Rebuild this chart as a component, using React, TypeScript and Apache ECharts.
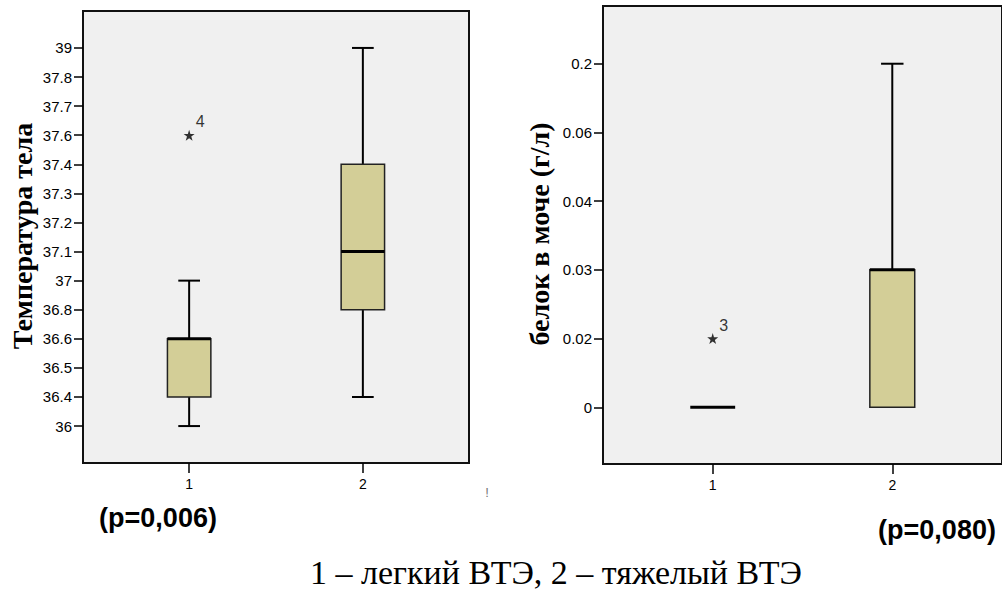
import React, { useEffect, useRef } from "react";
import * as echarts from "echarts";

// ---- data ----
const GROUPS = [1, 2];
const GROUP_LABELS = ["1", "2"];

const TEMP_TICKS = [36, 36.4, 36.5, 36.6, 36.8, 37, 37.1, 37.2, 37.3, 37.4, 37.6, 37.7, 37.8, 39];
const TEMP_LOW = [36, 36.4];
const TEMP_Q1 = [36.4, 36.8];
const TEMP_MED = [36.6, 37.1];
const TEMP_Q3 = [36.6, 37.4];
const TEMP_HIGH = [37, 39];
const TEMP_OUTLIER_GROUP = [1];
const TEMP_OUTLIER_VALUE = [37.6];
const TEMP_OUTLIER_CASE = ["4"];

const PROT_TICKS = [0, 0.02, 0.03, 0.04, 0.06, 0.2];
const PROT_LOW = [0, 0];
const PROT_Q1 = [0, 0];
const PROT_MED = [0, 0.03];
const PROT_Q3 = [0, 0.03];
const PROT_HIGH = [0, 0.2];
const PROT_OUTLIER_GROUP = [1];
const PROT_OUTLIER_VALUE = [0.02];
const PROT_OUTLIER_CASE = ["3"];

const TITLE_LEFT = "Температура тела";
const TITLE_RIGHT = "белок в моче (г/л)";
const P_LEFT = "(p=0,006)";
const P_RIGHT = "(p=0,080)";
const CAPTION = "1 – легкий ВТЭ, 2 – тяжелый ВТЭ";

// ---- styling ----
const BOX_FILL = "#d3ce97";
const PLOT_BG = "#f0f0f0";
const BOX_HALF = 0.125;
const CAP_HALF = 0.0625;
const STAR =
  "path://M0,-10 L2.2,-3.1 L9.5,-3.1 L3.7,1.2 L5.9,8.1 L0,3.9 L-5.9,8.1 L-3.7,1.2 L-9.5,-3.1 L-2.2,-3.1 Z";

const idx = (ticks: number[], v: number) => ticks.indexOf(v);

function boxData(ticks: number[], lo: number[], q1: number[], med: number[], q3: number[], hi: number[]) {
  return GROUPS.map((g, i) => [
    g,
    idx(ticks, lo[i]),
    idx(ticks, q1[i]),
    idx(ticks, med[i]),
    idx(ticks, q3[i]),
    idx(ticks, hi[i]),
  ]);
}

function outlierData(ticks: number[], groups: number[], values: number[], cases: string[]) {
  return groups.map((g, i) => ({ value: [g, idx(ticks, values[i])], caseId: cases[i] }));
}

const renderBox = (params: any, api: any) => {
  const x = api.value(0);
  const lo = api.value(1);
  const q1 = api.value(2);
  const med = api.value(3);
  const q3 = api.value(4);
  const hi = api.value(5);
  const black = "#000";
  const lw = 2;
  const children: any[] = [];
  const pt = (xx: number, yy: number) => api.coord([xx, yy]);
  if (lo < q1) {
    const a = pt(x, lo), b = pt(x, q1);
    children.push({ type: "line", shape: { x1: a[0], y1: a[1], x2: b[0], y2: b[1] }, style: { stroke: black, lineWidth: lw } });
    const c1 = pt(x - CAP_HALF, lo), c2 = pt(x + CAP_HALF, lo);
    children.push({ type: "line", shape: { x1: c1[0], y1: c1[1], x2: c2[0], y2: c2[1] }, style: { stroke: black, lineWidth: lw } });
  }
  if (hi > q3) {
    const a = pt(x, q3), b = pt(x, hi);
    children.push({ type: "line", shape: { x1: a[0], y1: a[1], x2: b[0], y2: b[1] }, style: { stroke: black, lineWidth: lw } });
    const c1 = pt(x - CAP_HALF, hi), c2 = pt(x + CAP_HALF, hi);
    children.push({ type: "line", shape: { x1: c1[0], y1: c1[1], x2: c2[0], y2: c2[1] }, style: { stroke: black, lineWidth: lw } });
  }
  const tl = pt(x - BOX_HALF, q3);
  const br = pt(x + BOX_HALF, q1);
  if (q3 > q1) {
    children.push({
      type: "rect",
      shape: { x: tl[0], y: tl[1], width: br[0] - tl[0], height: br[1] - tl[1] },
      style: { fill: BOX_FILL, stroke: "#222", lineWidth: 1.5 },
    });
  }
  const m1 = pt(x - BOX_HALF, med), m2 = pt(x + BOX_HALF, med);
  children.push({ type: "line", shape: { x1: m1[0], y1: m1[1], x2: m2[0], y2: m2[1] }, style: { stroke: black, lineWidth: 3 } });
  return { type: "group", children };
};

function yAxisFor(ticks: number[], gridIndex: number, min: number, max: number) {
  const vals = ticks.map((_, i) => i);
  return {
    type: "value",
    gridIndex,
    min,
    max,
    axisLine: { show: false, onZero: false },
    splitLine: { show: false },
    axisTick: { show: true, length: 9, customValues: vals, lineStyle: { color: "#000", width: 1.5 } },
    axisLabel: {
      show: true,
      customValues: vals,
      margin: 11,
      color: "#000",
      fontFamily: "Liberation Sans, Arial, sans-serif",
      fontSize: 15,
      formatter: (v: number) => String(ticks[Math.round(v)]),
    },
  };
}

function xAxisFor(gridIndex: number) {
  return {
    type: "value",
    gridIndex,
    min: 0.389,
    max: 2.611,
    axisLine: { show: false, onZero: false },
    splitLine: { show: false },
    axisTick: { show: true, length: 10, customValues: GROUPS, lineStyle: { color: "#000", width: 1.5 } },
    axisLabel: {
      show: true,
      customValues: GROUPS,
      margin: 14,
      color: "#000",
      fontFamily: "Liberation Sans, Arial, sans-serif",
      fontSize: 14,
      formatter: (v: number) => GROUP_LABELS[GROUPS.indexOf(Math.round(v))],
    },
  };
}

function outlierSeries(data: any[], xAxisIndex: number, yAxisIndex: number) {
  return {
    type: "scatter",
    xAxisIndex,
    yAxisIndex,
    symbol: STAR,
    symbolSize: 11,
    itemStyle: { color: "#000" },
    data,
    label: {
      show: true,
      position: "inside",
      offset: [11, -13.5],
      color: "#000",
      fontFamily: "Liberation Sans, Arial, sans-serif",
      fontSize: 16,
      formatter: (p: any) => p.data.caseId,
    },
    z: 5,
  };
}

export default function App() {
  const ref = useRef<HTMLDivElement>(null);
  useEffect(() => {
    if (!ref.current) return;
    const chart = echarts.init(ref.current, undefined, { renderer: "svg" });
    const gridStyle = { show: true, backgroundColor: PLOT_BG, borderColor: "#111", borderWidth: 2, containLabel: false };
    chart.setOption({
      animation: false,
      backgroundColor: "#fff",
      grid: [
        { ...gridStyle, left: 83, top: 11, width: 386, height: 452 },
        { ...gridStyle, left: 603, top: 6, width: 402, height: 458 },
      ],
      xAxis: [xAxisFor(0), xAxisFor(1)],
      yAxis: [yAxisFor(TEMP_TICKS, 0, -1.27, 14.27), yAxisFor(PROT_TICKS, 1, -0.825, 5.84)],
      series: [
        {
          type: "custom",
          xAxisIndex: 0,
          yAxisIndex: 0,
          renderItem: renderBox,
          encode: { x: 0, y: [1, 2, 3, 4, 5] },
          data: boxData(TEMP_TICKS, TEMP_LOW, TEMP_Q1, TEMP_MED, TEMP_Q3, TEMP_HIGH),
        },
        outlierSeries(outlierData(TEMP_TICKS, TEMP_OUTLIER_GROUP, TEMP_OUTLIER_VALUE, TEMP_OUTLIER_CASE), 0, 0),
        {
          type: "custom",
          xAxisIndex: 1,
          yAxisIndex: 1,
          renderItem: renderBox,
          encode: { x: 0, y: [1, 2, 3, 4, 5] },
          data: boxData(PROT_TICKS, PROT_LOW, PROT_Q1, PROT_MED, PROT_Q3, PROT_HIGH),
        },
        outlierSeries(outlierData(PROT_TICKS, PROT_OUTLIER_GROUP, PROT_OUTLIER_VALUE, PROT_OUTLIER_CASE), 1, 1),
      ],
      graphic: [
        {
          type: "text",
          x: 22,
          y: 236,
          rotation: Math.PI / 2,
          style: {
            text: TITLE_LEFT,
            fill: "#000",
            fontFamily: "Liberation Serif",
            fontWeight: "bold",
            fontSize: 28,
            align: "center",
            verticalAlign: "middle",
          },
        },
        {
          type: "text",
          x: 539,
          y: 234,
          rotation: Math.PI / 2,
          style: {
            text: TITLE_RIGHT,
            fill: "#000",
            fontFamily: "Liberation Serif",
            fontWeight: "bold",
            fontSize: 28,
            align: "center",
            verticalAlign: "middle",
          },
        },
        {
          type: "text",
          x: 158,
          y: 518,
          style: {
            text: P_LEFT,
            fill: "#000",
            fontFamily: "Liberation Sans",
            fontWeight: "bold",
            fontSize: 27,
            align: "center",
            verticalAlign: "middle",
          },
        },
        {
          type: "text",
          x: 937,
          y: 530,
          style: {
            text: P_RIGHT,
            fill: "#000",
            fontFamily: "Liberation Sans",
            fontWeight: "bold",
            fontSize: 27,
            align: "center",
            verticalAlign: "middle",
          },
        },
        {
          type: "text",
          x: 487,
          y: 492,
          style: {
            text: "!",
            fill: "#777",
            fontFamily: "Liberation Sans",
            fontSize: 13,
            align: "center",
            verticalAlign: "middle",
          },
        },
        {
          type: "text",
          x: 310,
          y: 572,
          style: {
            text: CAPTION,
            fill: "#000",
            fontFamily: "Liberation Serif",
            fontSize: 34,
            align: "left",
            verticalAlign: "middle",
          },
        },
      ],
    });
    return () => chart.dispose();
  }, []);
  return <div ref={ref} style={{ position: "fixed", left: 0, top: 0, width: 1002, height: 590 }} />;
}
